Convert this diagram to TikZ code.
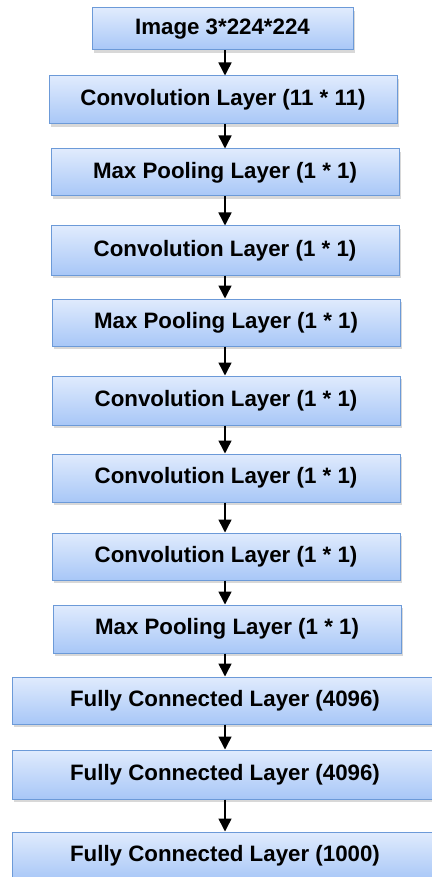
\documentclass[tikz,border=0pt]{standalone}
\usepackage{fontspec}
\setmainfont{Liberation Sans}
\usetikzlibrary{arrows.meta, shadows}
\tikzset{>={Triangle[width=13pt,length=13pt]}}
\definecolor{boxtop}{HTML}{E0EBFD}
\definecolor{boxbot}{HTML}{A8C7F7}
\definecolor{boxline}{HTML}{6C9AD8}
\tikzset{
    layer/.style={draw=boxline, line width=1pt, rectangle, inner sep=0pt,
        top color=boxtop, bottom color=boxbot, minimum height=48pt,
        minimum width=348pt, font=\fontsize{22.3}{26}\selectfont\bfseries,
        drop shadow={opacity=0.3, shadow xshift=1.5pt, shadow yshift=-3pt}},
    flow/.style={->, line width=1.5pt}
}

\begin{document}
\begin{tikzpicture}[x=1pt, y=1pt]
    \useasboundingbox (0,0) rectangle (431,-877);
    \fill[white] (0,0) rectangle (431,-877);
    \node[layer, minimum width=261pt, minimum height=42pt] (img) at (222.5,-29) {Image 3*224*224};
    \node[layer] (conv1) at (223,-100) {Convolution Layer (11 * 11)};
    \node[layer, minimum height=47pt] (pool1) at (225,-172.5) {Max Pooling Layer (1 * 1)};
    \node[layer, minimum height=49pt] (conv2) at (225,-250.5) {Convolution Layer (1 * 1)};
    \node[layer, minimum height=47pt] (pool2) at (226,-322.5) {Max Pooling Layer (1 * 1)};
    \node[layer, minimum height=49pt] (conv3) at (226,-400.5) {Convolution Layer (1 * 1)};
    \node[layer] (conv4) at (226,-478) {Convolution Layer (1 * 1)};
    \node[layer, minimum height=47pt] (conv5) at (226,-556.5) {Convolution Layer (1 * 1)};
    \node[layer] (pool3) at (227,-629) {Max Pooling Layer (1 * 1)};
    \node[layer, minimum width=426pt, minimum height=47pt] (fc1) at (225,-700.5) {Fully Connected Layer (4096)};
    \node[layer, minimum width=426pt, minimum height=49pt] (fc2) at (225,-774.5) {Fully Connected Layer (4096)};
    \node[layer, minimum width=426pt] (fc3) at (225,-856) {Fully Connected Layer (1000)};
    % arrows between layers
    \foreach \a/\b in {img/conv1, conv1/pool1, pool1/conv2, conv2/pool2, pool2/conv3,
        conv3/conv4, conv4/conv5, conv5/pool3, pool3/fc1, fc1/fc2, fc2/fc3}
        \draw[flow] (\a.south -| 225,0) -- (\b.north -| 225,0);
\end{tikzpicture}
\end{document}
